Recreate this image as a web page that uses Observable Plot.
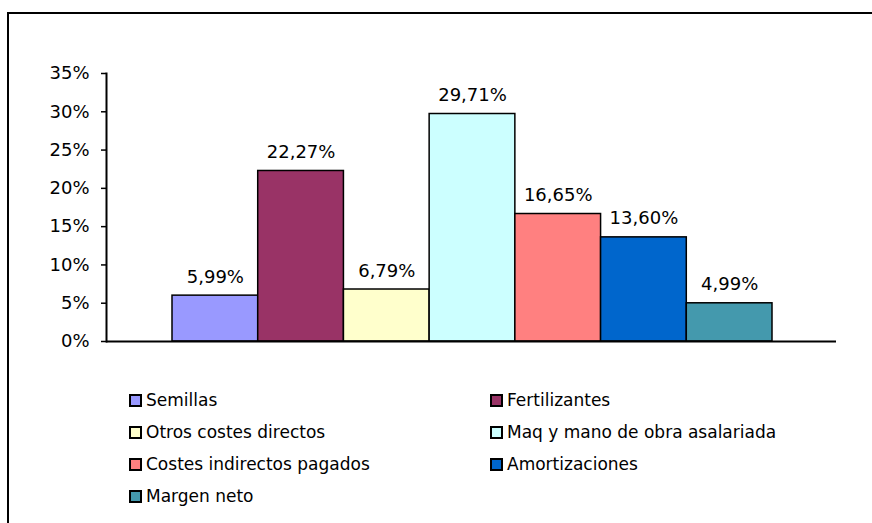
<!DOCTYPE html>
<html>
<head>
<meta charset="utf-8">
<script src="https://cdn.jsdelivr.net/npm/d3@7"></script>
<script src="https://cdn.jsdelivr.net/npm/@observablehq/plot@0.6"></script>
<style>
  html, body { margin: 0; padding: 0; background: #fff; overflow: hidden; width: 872px; height: 523px; }
  body { position: relative; font-family: "DejaVu Sans", Verdana, sans-serif; }
  #frame { position: absolute; left: 7px; top: 12px; width: 900px; height: 600px; border: 2px solid #000; box-sizing: border-box; }
  #chart { position: absolute; left: 0; top: 0; }
  #legend { position: absolute; left: 129px; top: 384px; display: grid; grid-template-columns: 361px 361px; grid-auto-rows: 32px; font-size: 17px; color: #000; }
  .item { display: flex; align-items: center; white-space: nowrap; }
  .sw { width: 9px; height: 9px; border: 2px solid #000; margin-right: 4px; flex: none; }
</style>
</head>
<body>
<div id="frame"></div>
<div id="chart"></div>
<div id="legend"></div>
<script>
const categories = ["Semillas", "Fertilizantes", "Otros costes directos", "Maq y mano de obra asalariada", "Costes indirectos pagados", "Amortizaciones", "Margen neto"];
const values = [5.99, 22.27, 6.79, 29.71, 16.65, 13.60, 4.99];
const colors = ["#9999FF", "#993366", "#FFFFCC", "#CCFFFF", "#FF8080", "#0066CC", "#4499AD"];
const yTicks = [0, 5, 10, 15, 20, 25, 30, 35];

const data = categories.map((c, i) => ({category: c, value: values[i], color: colors[i]}));
const fmt = v => v.toFixed(2).replace(".", ",") + "%";

const chart = Plot.plot({
  width: 872,
  height: 360,
  marginLeft: 106,
  marginRight: 36,
  marginTop: 73,
  marginBottom: 19,
  style: {fontFamily: "'DejaVu Sans', Verdana, sans-serif", fontSize: "18px", color: "#000", background: "transparent"},
  x: {domain: categories, padding: 0, round: false, insetLeft: 66, insetRight: 64, axis: null},
  y: {domain: [0, 35], ticks: yTicks, axis: null},
  color: {domain: categories, range: colors},
  marks: [
    Plot.barY(data, {x: "category", y: "value", fill: "category", stroke: "#000", strokeWidth: 1.5}),
    Plot.text(data, {x: "category", y: "value", text: d => fmt(d.value), lineAnchor: "bottom", dy: -13, fill: "#000", fontSize: 18}),
    Plot.ruleY([0], {stroke: "#000", strokeWidth: 2}),
    Plot.frame({anchor: "left", stroke: "#000", strokeWidth: 2}),
    Plot.axisY({ticks: yTicks, tickFormat: d => d + "%", tickSize: 5, tickPadding: 12, stroke: "#000", strokeWidth: 1.5, fill: "#000", fontSize: 18, label: null})
  ]
});
document.getElementById("chart").appendChild(chart);

const legend = document.getElementById("legend");
data.forEach(d => {
  const item = document.createElement("div");
  item.className = "item";
  const sw = document.createElement("span");
  sw.className = "sw";
  sw.style.background = d.color;
  const t = document.createElement("span");
  t.textContent = d.category;
  item.appendChild(sw);
  item.appendChild(t);
  legend.appendChild(item);
});
</script>
</body>
</html>
